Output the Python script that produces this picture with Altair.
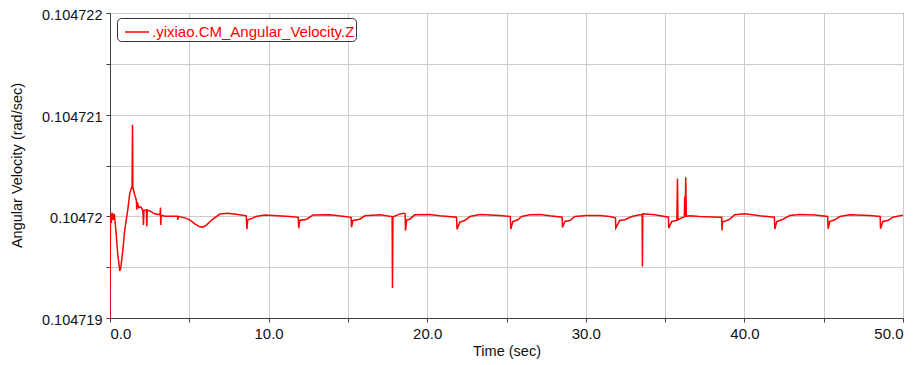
import altair as alt
import pandas as pd

SERIES = ".yixiao.CM_Angular_Velocity.Z"

time_s = [
    0.00, 0.03, 0.08, 0.15, 0.21, 0.27, 0.37, 0.49, 0.62, 0.68,
    0.81, 0.93, 1.12, 1.25, 1.39, 1.42, 1.44, 1.56, 1.66, 1.69,
    1.72, 1.82, 1.94, 2.07, 2.11, 2.14, 2.29, 2.32, 2.35, 2.51,
    2.82, 3.16, 3.18, 3.20, 3.23, 3.46, 4.26, 4.27, 4.31, 4.72,
    5.03, 5.35, 5.66, 5.85, 6.10, 6.42, 6.93, 7.43, 8.18, 8.59,
    8.63, 8.69, 9.00, 9.19, 9.76, 11.34, 11.87, 11.90, 11.97, 12.41,
    12.79, 13.86, 14.80, 15.20, 15.23, 15.31, 15.75, 16.06, 17.01, 17.79,
    17.81, 17.84, 18.27, 18.52, 18.61, 18.63, 18.71, 18.90, 19.22, 20.16,
    20.79, 21.85, 21.88, 22.06, 22.37, 22.69, 23.32, 24.58, 25.24, 25.27,
    25.40, 25.71, 25.96, 26.47, 27.10, 27.73, 28.51, 28.53, 28.68, 29.00,
    29.31, 30.06, 30.88, 31.51, 31.87, 31.89, 32.14, 32.46, 32.90, 33.40,
    33.55, 33.57, 33.59, 34.35, 34.98, 35.21, 35.23, 35.42, 35.74, 35.78,
    35.81, 36.05, 36.21, 36.24, 36.27, 36.30, 36.34, 36.55, 37.18, 38.45,
    38.57, 38.59, 38.62, 38.76, 39.08, 39.39, 40.03, 40.97, 41.89, 41.92,
    42.04, 42.36, 42.86, 43.49, 44.43, 45.25, 45.28, 45.38, 45.70, 46.01,
    46.64, 47.90, 48.56, 48.58, 48.73, 49.04, 49.36, 49.80, 50.00,
]

ang_vel = [
    0.104719000, 0.104720040, 0.104719936, 0.104720034, 0.104719966, 0.104720025, 0.104719867, 0.104719620, 0.104719464, 0.104719494,
    0.104719670, 0.104719867, 0.104720064, 0.104720231, 0.104720290, 0.104720900, 0.104720290, 0.104720210, 0.104720160, 0.104720064,
    0.104720140, 0.104720084, 0.104720093, 0.104720059, 0.104719916, 0.104720059, 0.104720064, 0.104719900, 0.104720062, 0.104720054,
    0.104720025, 0.104720015, 0.104720087, 0.104719916, 0.104720010, 0.104720000, 0.104720000, 0.104719966, 0.104720000, 0.104719985,
    0.104719966, 0.104719926, 0.104719897, 0.104719894, 0.104719916, 0.104719966, 0.104720022, 0.104720031, 0.104720015, 0.104720005,
    0.104719874, 0.104719966, 0.104719982, 0.104719998, 0.104720012, 0.104719998, 0.104719990, 0.104719884, 0.104719959, 0.104719972,
    0.104720012, 0.104720015, 0.104719998, 0.104719990, 0.104719894, 0.104719959, 0.104719972, 0.104720005, 0.104720015, 0.104719998,
    0.104719294, 0.104719995, 0.104720022, 0.104720031, 0.104720025, 0.104719860, 0.104719966, 0.104719972, 0.104720015, 0.104720018,
    0.104720005, 0.104719992, 0.104719874, 0.104719943, 0.104719959, 0.104719998, 0.104720018, 0.104720008, 0.104719998, 0.104719874,
    0.104719949, 0.104719966, 0.104719998, 0.104720015, 0.104720018, 0.104720005, 0.104719992, 0.104719890, 0.104719949, 0.104719959,
    0.104719998, 0.104720008, 0.104720008, 0.104719998, 0.104719985, 0.104719884, 0.104719959, 0.104719966, 0.104719998, 0.104720015,
    0.104720015, 0.104719506, 0.104720025, 0.104720015, 0.104719998, 0.104719992, 0.104719884, 0.104719949, 0.104719959, 0.104720369,
    0.104719966, 0.104719985, 0.104719995, 0.104720195, 0.104719995, 0.104720385, 0.104720000, 0.104720005, 0.104719998, 0.104719992,
    0.104719992, 0.104719860, 0.104719950, 0.104719949, 0.104719972, 0.104720015, 0.104720025, 0.104720005, 0.104719992, 0.104719874,
    0.104719949, 0.104719966, 0.104720008, 0.104720018, 0.104720012, 0.104719998, 0.104719877, 0.104719949, 0.104719966, 0.104719998,
    0.104720015, 0.104720008, 0.104719998, 0.104719877, 0.104719949, 0.104719959, 0.104719992, 0.104720005, 0.104720012,
]

x_ticks = [0, 5, 10, 15, 20, 25, 30, 35, 40, 45, 50]
y_ticks = [0.104719, 0.1047195, 0.10472, 0.1047205, 0.104721, 0.1047215, 0.104722]

df = pd.DataFrame({"t": time_s, "w": ang_vel, "series": [SERIES] * len(time_s)})

FONT = "Liberation Sans"

chart = (
    alt.Chart(df)
    .mark_line(strokeWidth=1.5, clip=True)
    .encode(
        x=alt.X(
            "t:Q",
            scale=alt.Scale(domain=[0, 50], nice=False, zero=False),
            axis=alt.Axis(
                title="Time (sec)",
                values=x_ticks,
                labelExpr="datum.value % 10 == 0 ? format(datum.value, '.1f') : ''",
                titleY=37,
                titleBaseline="alphabetic",
            ),
        ),
        y=alt.Y(
            "w:Q",
            scale=alt.Scale(domain=[0.104719, 0.104722], nice=False, zero=False),
            axis=alt.Axis(
                title="Angular Velocity (rad/sec)",
                values=y_ticks,
                labelExpr="round(datum.value * 1e7) % 10 == 0 ? format(datum.value, '.6~f') : ''",
                labelOffset=2.5,
                labelFontSize=14.5,
                titleX=-89,
                titleY=152,
                titleAngle=-90,
                titleAlign="center",
                titleBaseline="alphabetic",
            ),
        ),
        color=alt.Color(
            "series:N",
            scale=alt.Scale(domain=[SERIES], range=["#ff0000"]),
            legend=alt.Legend(
                title=None,
                orient="none",
                legendX=7,
                legendY=5,
                symbolType="stroke",
                symbolSize=576,
                symbolStrokeWidth=1.5,
                symbolOffset=6,
                labelColor="#ff0000",
                labelFontSize=15,
                labelFont=FONT,
                labelOffset=2,
                labelLimit=500,
                strokeColor="#333333",
                fillColor="#ffffff",
                cornerRadius=4,
                padding=1,
            ),
        ),
    )
    .properties(
        width=793,
        height=305,
        autosize=alt.AutoSizeParams(type="none"),
        padding={"left": 102, "top": 5, "right": 8, "bottom": 44},
    )
    .configure_view(stroke="#333333", strokeWidth=1)
    .configure_axis(
        grid=True,
        gridColor="#cccccc",
        gridWidth=1,
        domainColor="#404040",
        tickColor="#404040",
        tickSize=4,
        labelPadding=4,
        labelFont=FONT,
        labelFontSize=15,
        labelColor="#111111",
        titleFont=FONT,
        titleFontSize=14.5,
        titleColor="#111111",
        titleFontWeight="normal",
    )
)

chart.save("out.html", embed_options={"renderer": "svg", "actions": False})
